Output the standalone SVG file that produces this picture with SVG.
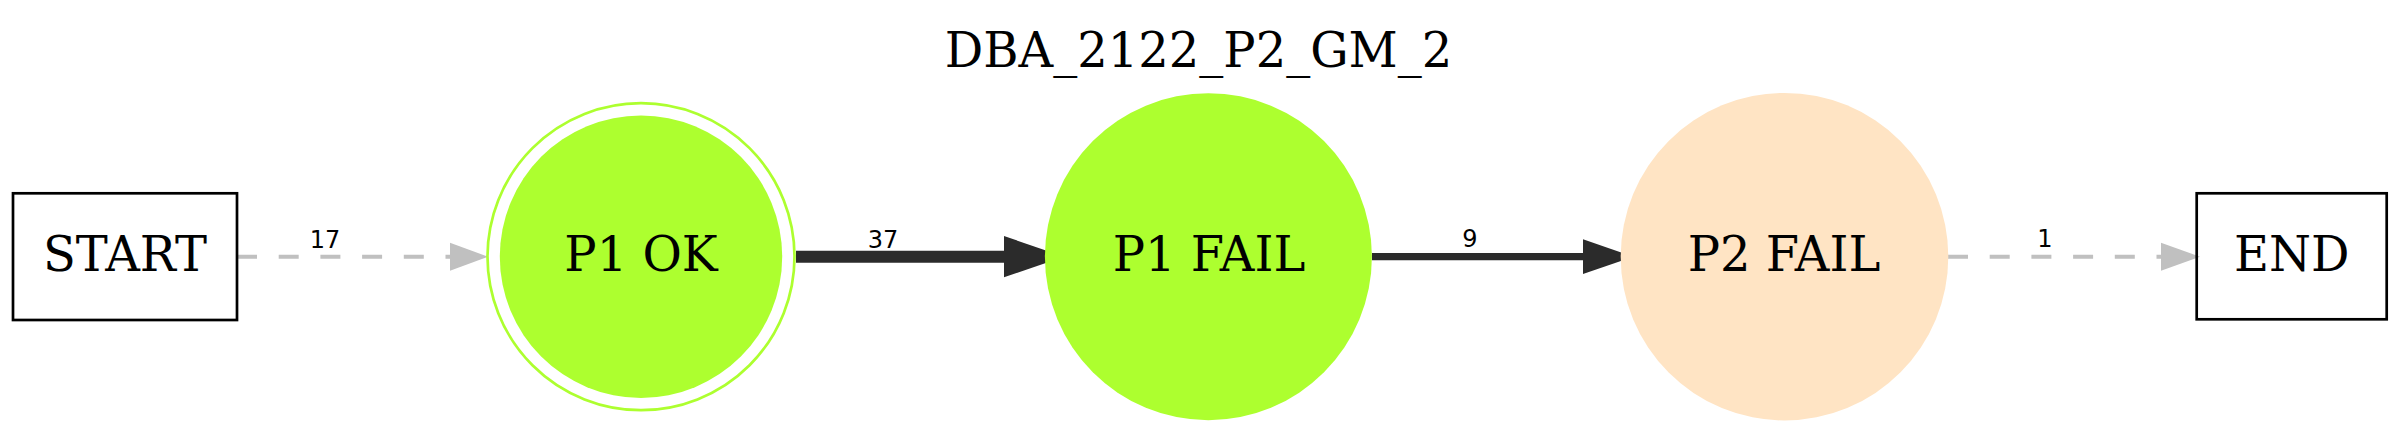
<svg xmlns="http://www.w3.org/2000/svg" width="2400" height="434" viewBox="0 0 2400 434">
<style>
.bg{fill:#ffffff}
.box{fill:none;stroke:#000000;stroke-width:2.7}
.t{font-family:"DejaVu Serif","Liberation Serif",serif;font-size:48px;fill:#000000;text-anchor:middle}
.lbl{font-family:"DejaVu Sans","Liberation Sans",sans-serif;font-size:24px;fill:#000000;text-anchor:middle}
.dash{stroke:#c0c0c0;stroke-width:4;stroke-dasharray:20,21.7;fill:none}
.dashhead{fill:#c0c0c0}
.solid{stroke:#2b2b2b;fill:none}
.solidhead{fill:#2b2b2b}
</style>
<rect class="bg" x="0" y="0" width="2400" height="434"/>
<text class="t" x="1198.5" y="66.7">DBA_2122_P2_GM_2</text>
<g id="connectors">
  <g id="e_start_p1ok">
    <line class="dash" x1="237" y1="256.7" x2="450" y2="256.7"/>
    <polygon class="dashhead" points="450,242.7 488,256.7 450,270.7"/>
    <text class="lbl" x="325" y="247.7">17</text>
  </g>
  <g id="e_p1ok_p1fail">
    <line class="solid" stroke-width="12" x1="796" y1="256.7" x2="1005" y2="256.7"/>
    <polygon class="solidhead" points="1004,236 1064,256.7 1004,277.3"/>
    <text class="lbl" x="883" y="247.7">37</text>
  </g>
  <g id="e_p1fail_p2fail">
    <line class="solid" stroke-width="7.3" x1="1372" y1="256.7" x2="1584" y2="256.7"/>
    <polygon class="solidhead" points="1583,239.3 1633.3,256.7 1583,274"/>
    <text class="lbl" x="1470" y="246.7">9</text>
  </g>
  <g id="e_p2fail_end">
    <line class="dash" x1="1948" y1="256.7" x2="2161" y2="256.7"/>
    <polygon class="dashhead" points="2161,242.7 2200,256.7 2161,270.7"/>
    <text class="lbl" x="2045" y="246.7">1</text>
  </g>
</g>
<g id="START">
  <rect class="box" x="13" y="193.3" width="224" height="126.7"/>
  <text class="t" x="125" y="270.7">START</text>
</g>
<g id="P1_OK">
  <circle cx="641" cy="256.7" r="153.5" fill="none" stroke="#adff2f" stroke-width="2.7"/>
  <circle cx="641" cy="256.7" r="141.2" fill="#adff2f"/>
  <text class="t" x="641" y="270.7">P1 OK</text>
</g>
<g id="P1_FAIL">
  <circle cx="1208.4" cy="256.7" r="163.5" fill="#adff2f"/>
  <text class="t" x="1209" y="270.7">P1 FAIL</text>
</g>
<g id="P2_FAIL">
  <circle cx="1784.5" cy="256.7" r="163.8" fill="#ffe4c4"/>
  <text class="t" x="1784" y="270.7">P2 FAIL</text>
</g>
<g id="END">
  <rect class="box" x="2196.7" y="193.3" width="190" height="126"/>
  <text class="t" x="2291.7" y="270.7">END</text>
</g>
</svg>
